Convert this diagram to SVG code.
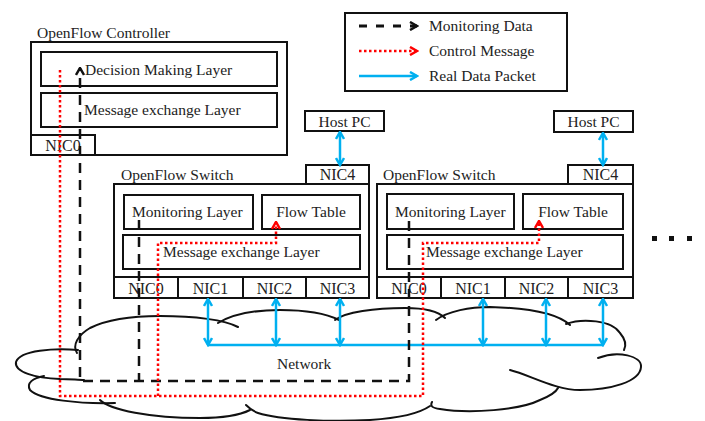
<svg xmlns="http://www.w3.org/2000/svg" width="705" height="421" viewBox="0 0 705 421">
  <style>
    text { font-family: "Liberation Serif", "Times New Roman", serif; font-size: 15.5px; fill: #222; }
    .nic { font-size: 16px; text-anchor: middle; }
    .mid { text-anchor: middle; }
    .box { fill: none; stroke: #111; stroke-width: 2; }
    .cloud { fill: none; stroke: #111; stroke-width: 2; stroke-linecap: round; }
    .mon { fill: none; stroke: #111; stroke-width: 2.5; stroke-dasharray: 10 7; }
    .ctl { fill: none; stroke: #ff0000; stroke-width: 2.5; stroke-dasharray: 2.5 2.5; }
    .data { fill: none; stroke: #00b0f0; stroke-width: 2.5; }
  </style>
  <defs>
    <marker id="headBlack" viewBox="0 0 10 10" refX="8.5" refY="5" markerWidth="10" markerHeight="10" markerUnits="userSpaceOnUse" orient="auto-start-reverse">
      <path d="M1.5,1 L8.5,5 L1.5,9" fill="none" stroke="#111" stroke-width="2.5"/>
    </marker>
    <marker id="headRed" viewBox="0 0 10 10" refX="8.5" refY="5" markerWidth="10" markerHeight="10" markerUnits="userSpaceOnUse" orient="auto-start-reverse">
      <path d="M1.5,1 L8.5,5 L1.5,9" fill="none" stroke="#ff0000" stroke-width="2.5"/>
    </marker>
    <marker id="headBlue" viewBox="0 0 10 10" refX="8.5" refY="5" markerWidth="10" markerHeight="10" markerUnits="userSpaceOnUse" orient="auto-start-reverse">
      <path d="M1.5,1 L8.5,5 L1.5,9" fill="none" stroke="#00b0f0" stroke-width="2.5"/>
    </marker>
  </defs>

  <rect width="705" height="421" fill="#fff"/>

  <!-- Network cloud: overlapping bumps with short inner tails -->
  <g id="network">
    <path class="cloud" d="M77,353 C72,345 78,335 90,328 C110,318 140,316 160,316 C195,316 225,320 238,327"/>
    <path class="cloud" d="M218,323 C235,313 260,310 280,310 C305,310 325,313 339,320"/>
    <path class="cloud" d="M335,320 C345,312 375,308 405,308 C425,308 438,311 445,318"/>
    <path class="cloud" d="M436,320 C448,311 470,307 490,307 C530,308 558,314 570,325"/>
    <path class="cloud" d="M566,324 C582,318 612,320 620,333 C626,340 626,346 624,350"/>
    <path class="cloud" d="M598,358 C618,350 642,356 641,367 C640,382 610,390 580,390 C555,390 530,375 510,370"/>
    <path class="cloud" d="M432,402 C430,406 432,408 440,409 C470,414 520,410 540,400 C550,396 556,392 558,388"/>
    <path class="cloud" d="M246,405 C250,409 252,411 258,413 C280,420 330,422 370,420 C400,418 420,413 430,406"/>
    <path class="cloud" d="M100,400 C110,410 150,418 200,418 C225,418 240,415 250,410"/>
    <path class="cloud" d="M115,403 C80,404 40,400 30,390 C26,383 33,378 44,376"/>
    <path class="cloud" d="M78,350 C55,348 20,350 16,362 C14,372 35,378 60,379 C70,379 78,380 84,380"/>
    <text x="277" y="369">Network</text>
  </g>

  <!-- Legend -->
  <g id="legend">
    <rect class="box" x="345" y="13" width="222" height="78"/>
    <line x1="359" y1="26" x2="417" y2="26" stroke="#111" stroke-width="3" stroke-dasharray="8 9" marker-end="url(#headBlack)"/>
    <line x1="359" y1="51" x2="417" y2="51" class="ctl" marker-end="url(#headRed)"/>
    <line x1="359" y1="76" x2="417" y2="76" class="data" marker-end="url(#headBlue)"/>
    <text x="429" y="31">Monitoring Data</text>
    <text x="429" y="56">Control Message</text>
    <text x="429" y="81">Real Data Packet</text>
  </g>

  <!-- Controller -->
  <g id="controller">
    <text x="37" y="38">OpenFlow Controller</text>
    <rect class="box" x="31" y="42" width="256" height="113"/>
    <rect class="box" x="41" y="52" width="236" height="34"/>
    <text x="85" y="75">Decision Making Layer</text>
    <rect class="box" x="41" y="93" width="236" height="34"/>
    <text x="84" y="115">Message exchange Layer</text>
    <rect class="box" x="31" y="135" width="64" height="20"/>
    <text class="nic" x="63" y="151">NIC0</text>
  </g>

  <!-- Host PCs -->
  <g id="host-pc-1">
    <rect class="box" x="305" y="111" width="79" height="20"/>
    <text class="mid" x="344.5" y="127">Host PC</text>
  </g>
  <g id="host-pc-2">
    <rect class="box" x="554" y="111" width="79" height="21"/>
    <text class="mid" x="593.5" y="127">Host PC</text>
  </g>

  <!-- Switch 1 -->
  <g id="switch-1">
    <text x="121" y="180">OpenFlow Switch</text>
    <rect class="box" x="306" y="165" width="63" height="19"/>
    <text class="nic" x="337.5" y="180">NIC4</text>
    <rect class="box" x="114" y="184" width="255" height="114"/>
    <rect class="box" x="124" y="195" width="129" height="34"/>
    <text x="132" y="217">Monitoring Layer</text>
    <rect class="box" x="262" y="195" width="98" height="34"/>
    <text class="mid" x="311" y="217">Flow Table</text>
    <rect class="box" x="123" y="235" width="237" height="34"/>
    <text x="163" y="257">Message exchange Layer</text>
    <path class="box" d="M114,277 H369 M178,277 V298 M243,277 V298 M306,277 V298"/>
    <text class="nic" x="146" y="294">NIC0</text>
    <text class="nic" x="210.5" y="294">NIC1</text>
    <text class="nic" x="274.5" y="294">NIC2</text>
    <text class="nic" x="337.5" y="294">NIC3</text>
  </g>

  <!-- Switch 2 -->
  <g id="switch-2">
    <text x="383" y="180">OpenFlow Switch</text>
    <rect class="box" x="568" y="165" width="65" height="19"/>
    <text class="nic" x="600.5" y="180">NIC4</text>
    <rect class="box" x="377" y="184" width="256" height="114"/>
    <rect class="box" x="387" y="194" width="127" height="35"/>
    <text x="395" y="217">Monitoring Layer</text>
    <rect class="box" x="523" y="194" width="100" height="35"/>
    <text class="mid" x="573" y="217">Flow Table</text>
    <rect class="box" x="387" y="235" width="236" height="34"/>
    <text x="426" y="257">Message exchange Layer</text>
    <path class="box" d="M377,277 H633 M441,277 V298 M505,277 V298 M568,277 V298"/>
    <text class="nic" x="409" y="294">NIC0</text>
    <text class="nic" x="473" y="294">NIC1</text>
    <text class="nic" x="536.5" y="294">NIC2</text>
    <text class="nic" x="600.5" y="294">NIC3</text>
  </g>

  <!-- More switches -->
  <g id="more">
    <rect x="652" y="236" width="5" height="5" fill="#111"/>
    <rect x="669" y="236" width="5" height="5" fill="#111"/>
    <rect x="687" y="236" width="5" height="5" fill="#111"/>
  </g>

  <!-- Connectors -->
  <g id="connectors">
    <!-- real data packets -->
    <line class="data" x1="340" y1="132" x2="340" y2="165" marker-start="url(#headBlue)" marker-end="url(#headBlue)"/>
    <line class="data" x1="603" y1="133" x2="603" y2="165" marker-start="url(#headBlue)" marker-end="url(#headBlue)"/>
    <line class="data" x1="208" y1="345" x2="603" y2="345"/>
    <line class="data" x1="208" y1="299" x2="208" y2="345" marker-start="url(#headBlue)" marker-end="url(#headBlue)"/>
    <line class="data" x1="276" y1="299" x2="276" y2="345" marker-start="url(#headBlue)" marker-end="url(#headBlue)"/>
    <line class="data" x1="340" y1="299" x2="340" y2="345" marker-start="url(#headBlue)" marker-end="url(#headBlue)"/>
    <line class="data" x1="483" y1="299" x2="483" y2="345" marker-start="url(#headBlue)" marker-end="url(#headBlue)"/>
    <line class="data" x1="546" y1="299" x2="546" y2="345" marker-start="url(#headBlue)" marker-end="url(#headBlue)"/>
    <line class="data" x1="603" y1="299" x2="603" y2="345" marker-start="url(#headBlue)" marker-end="url(#headBlue)"/>

    <!-- monitoring data to the controller -->
    <path class="mon" d="M409,221 V381 H80 V68" marker-end="url(#headBlack)"/>
    <path class="mon" d="M139,220 V381"/>

    <!-- control messages to the flow tables -->
    <path class="ctl" d="M60,70 V396 H423 V243 H539 V221" marker-end="url(#headRed)"/>
    <path class="ctl" d="M158,396 V243 H276 V222" marker-end="url(#headRed)"/>
  </g>
</svg>
